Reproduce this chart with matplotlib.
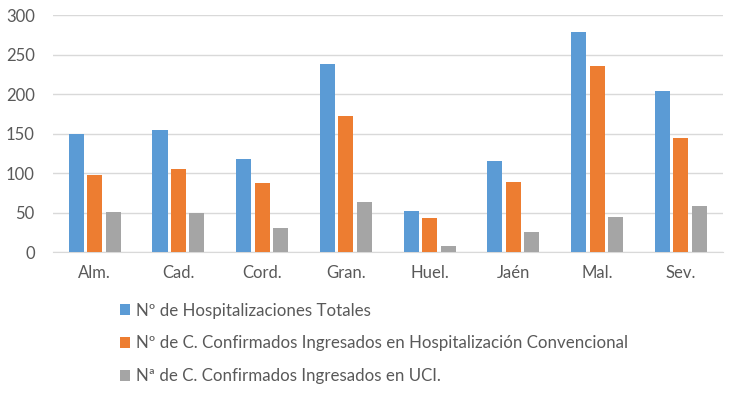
import numpy as np
import matplotlib
matplotlib.use("Agg")
import matplotlib.pyplot as plt

provinces = ["Alm.", "Cad.", "Cord.", "Gran.", "Huel.", "Jaén", "Mal.", "Sev."]
hosp_totales = [149, 155, 118, 238, 52, 115, 279, 204]
hosp_convencional = [97, 105, 87, 172, 43, 89, 235, 145]
ingresados_uci = [51, 49, 30, 64, 8, 25, 44, 58]
series_labels = [
    "Nº de Hospitalizaciones Totales",
    "Nº de C. Confirmados Ingresados en Hospitalización Convencional",
    "Nª de C. Confirmados Ingresados en UCI.",
]
y_ticks = [0, 50, 100, 150, 200, 250, 300]

colors = ["#5B9BD5", "#ED7D31", "#A5A5A5"]
text_color = "#595959"

plt.rcParams["font.family"] = ["Lato", "DejaVu Sans"]

fig = plt.figure(figsize=(7.33, 3.97), dpi=100)
ax = fig.add_axes([0.072, 0.365, 0.914, 0.597])

x = np.arange(len(provinces))
width = 0.18
step = 0.22
for i, (vals, col, lab) in enumerate(zip([hosp_totales, hosp_convencional, ingresados_uci], colors, series_labels)):
    ax.bar(x + (i - 1) * step, vals, width=width, color=col, label=lab, zorder=3)

ax.set_xlim(-0.5, len(provinces) - 0.5)
ax.set_ylim(0, 300)
ax.set_yticks(y_ticks)
ax.set_xticks(x)
ax.set_xticklabels(provinces)
ax.grid(axis="y", color="#D9D9D9", linewidth=1, zorder=0)
for side in ["top", "right", "left"]:
    ax.spines[side].set_visible(False)
ax.spines["bottom"].set_color("#D9D9D9")
ax.tick_params(axis="both", length=0, labelsize=12, colors=text_color)
ax.tick_params(axis="y", pad=13)
ax.tick_params(axis="x", pad=9)

handles, labels = ax.get_legend_handles_labels()
leg = fig.legend(handles, labels, loc="upper left", bbox_to_anchor=(0.155, 0.255),
                 frameon=False, fontsize=12.2, handlelength=0.55, handleheight=0.55,
                 handletextpad=0.35, labelspacing=1.0, borderaxespad=0)
for t in leg.get_texts():
    t.set_color(text_color)

fig.savefig("out.png", dpi=100)
